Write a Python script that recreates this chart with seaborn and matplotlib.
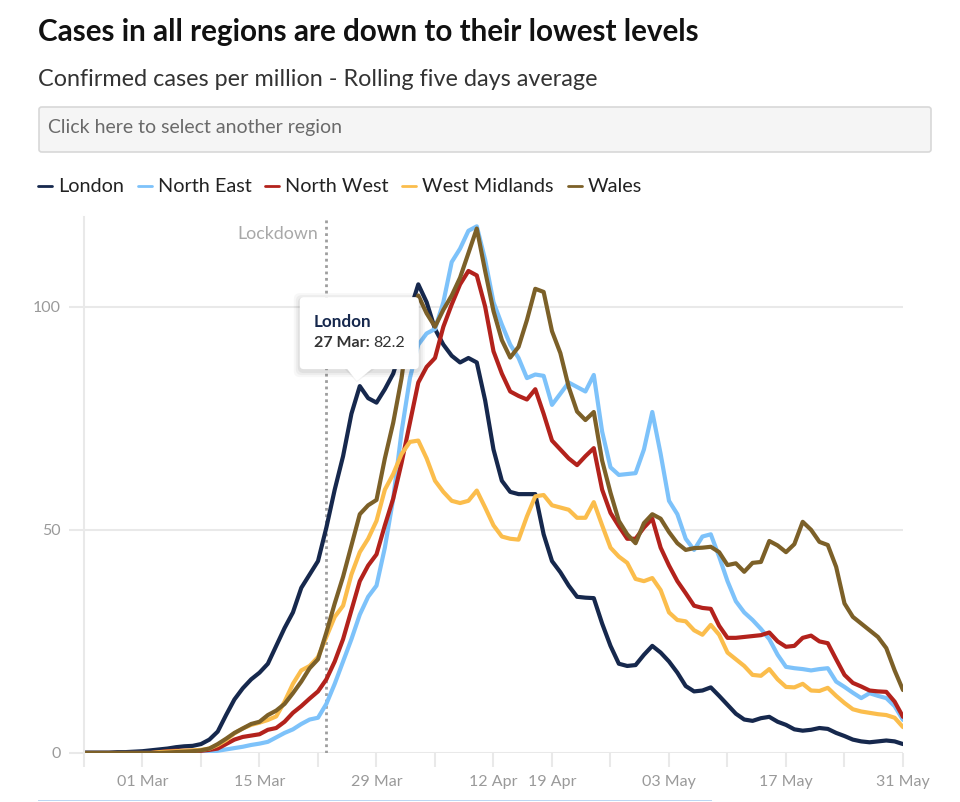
import numpy as np
import pandas as pd
import matplotlib
matplotlib.use("Agg")
import matplotlib.pyplot as plt
import matplotlib.dates as mdates
from matplotlib.patches import FancyBboxPatch, Polygon, Rectangle
import seaborn as sns

# ---------------- data ----------------
start_date = "2020-02-23"
end_date = "2020-05-31"
regions = ["London", "North East", "North West", "West Midlands", "Wales"]
colors = ["#16284d", "#7dc2fa", "#b3221c", "#fbbd4c", "#7c6028"]

london = [0.1, 0.1, 0.1, 0.1, 0.2, 0.2, 0.3,
          0.4, 0.6, 0.8, 1.0, 1.3, 1.5, 1.6,
          2.0, 3.0, 4.8, 8.5, 12.0, 14.5, 16.5,
          18.0, 20.0, 24.0, 28.0, 31.5, 37.0, 40.0,
          43.0, 50.5, 59.0, 66.5, 76.0, 82.2, 79.5,
          78.5, 81.5, 85.0, 91.0, 99.0, 105.0, 101.0,
          95.0, 91.5, 89.0, 87.5, 88.5, 87.5, 79.0,
          68.0, 61.0, 58.5, 58.0, 58.0, 58.0, 49.0,
          43.0, 40.5, 37.5, 35.0, 34.8, 34.7, 29.0,
          24.0, 20.0, 19.5, 19.7, 22.0, 24.0, 22.5,
          20.5, 18.0, 15.0, 13.8, 14.0, 14.7, 12.8,
          10.8, 8.8, 7.5, 7.2, 7.8, 8.1, 7.0,
          6.3, 5.3, 5.0, 5.2, 5.6, 5.4, 4.5,
          3.8, 3.0, 2.6, 2.4, 2.6, 2.8, 2.6, 2.0]

north_east = [0, 0, 0, 0, 0, 0, 0,
              0, 0, 0, 0, 0, 0.05, 0.1,
              0.1, 0.2, 0.5, 0.8, 1.1, 1.4, 1.8,
              2.1, 2.5, 3.5, 4.5, 5.3, 6.5, 7.5,
              7.9, 11.0, 15.5, 20.5, 25.5, 31.0, 35.0,
              37.5, 46.0, 57.0, 72.0, 84.0, 91.5, 94.0,
              95.0, 101.0, 110.0, 113.0, 117.0, 118.0, 110.5,
              101.0, 96.0, 91.5, 88.5, 84.0, 84.8, 84.5,
              78.0, 80.5, 83.0, 82.0, 81.0, 84.7, 72.0,
              64.0, 62.3, 62.5, 62.7, 68.0, 76.4, 67.0,
              56.5, 53.5, 48.0, 45.5, 48.5, 49.0, 44.0,
              38.5, 34.0, 31.5, 29.8, 27.8, 25.5, 22.0,
              19.3, 19.0, 18.8, 18.5, 18.8, 19.0, 16.0,
              14.8, 13.5, 12.3, 13.4, 12.8, 12.3, 10.5, 7.4]

north_west = [0, 0, 0, 0, 0, 0, 0,
              0, 0, 0.2, 0.4, 0.5, 0.5, 0.5,
              0.5, 0.7, 1.0, 2.0, 3.0, 3.6, 3.9,
              4.2, 5.2, 5.6, 7.0, 9.0, 10.5, 12.2,
              13.8, 16.5, 20.5, 25.5, 32.0, 38.5, 42.0,
              44.5, 51.0, 57.0, 65.0, 74.0, 83.0, 86.5,
              88.5, 95.5, 100.5, 105.0, 108.0, 107.0, 100.0,
              90.0, 85.0, 81.0, 80.0, 79.2, 81.5, 76.0,
              70.0, 68.0, 66.0, 64.5, 66.5, 68.3, 59.0,
              53.8, 50.8, 48.0, 48.0, 50.5, 52.5, 46.0,
              42.0, 38.5, 35.8, 33.0, 32.5, 32.3, 28.5,
              25.8, 25.8, 26.0, 26.2, 26.4, 27.0, 25.0,
              23.8, 24.0, 25.8, 26.3, 25.0, 24.6, 21.0,
              17.5, 15.7, 14.9, 14.0, 13.8, 13.7, 11.5, 8.1]

west_midlands = [0, 0, 0, 0, 0, 0, 0,
                 0, 0, 0.2, 0.3, 0.4, 0.5, 0.6,
                 0.7, 1.0, 1.8, 2.9, 4.4, 5.5, 6.3,
                 6.8, 7.4, 8.2, 11.5, 15.5, 18.5, 19.5,
                 21.5, 26.0, 30.5, 33.0, 40.0, 45.0, 48.0,
                 52.0, 59.0, 62.5, 67.0, 69.7, 70.0, 66.0,
                 61.0, 58.5, 56.5, 56.0, 56.5, 58.8, 55.0,
                 51.0, 48.5, 48.0, 47.8, 53.0, 57.5, 57.8,
                 55.5, 55.0, 54.5, 52.7, 52.7, 56.2, 51.0,
                 46.0, 44.0, 42.6, 39.0, 38.5, 39.2, 36.5,
                 31.5, 29.8, 29.5, 27.5, 26.5, 28.7, 26.5,
                 22.5, 21.0, 19.5, 17.5, 17.3, 18.8, 16.5,
                 14.8, 14.7, 15.5, 14.0, 13.9, 14.6, 12.8,
                 11.2, 9.8, 9.3, 9.0, 8.7, 8.5, 7.9, 5.8]

wales = [0, 0, 0, 0, 0, 0, 0,
         0, 0, 0, 0.1, 0.2, 0.3, 0.4,
         0.6, 1.0, 2.0, 3.2, 4.5, 5.5, 6.5,
         7.0, 8.5, 9.5, 11.0, 13.4, 16.0, 19.0,
         21.0, 27.0, 33.5, 39.5, 46.5, 53.5, 55.5,
         56.7, 66.0, 74.0, 84.0, 98.0, 102.5, 98.5,
         95.5, 99.3, 102.5, 106.5, 112.0, 117.5, 108.0,
         99.0, 92.5, 88.6, 91.0, 97.0, 104.0, 103.3,
         94.5, 89.6, 82.0, 76.5, 74.6, 76.4, 65.5,
         58.3, 52.0, 49.0, 47.0, 51.5, 53.5, 52.5,
         49.5, 47.0, 45.5, 45.9, 46.0, 46.2, 45.0,
         42.1, 42.5, 40.6, 42.6, 42.8, 47.5, 46.5,
         45.0, 46.8, 51.8, 50.0, 47.3, 46.6, 41.7,
         33.5, 30.5, 29.0, 27.5, 26.0, 23.5, 18.5, 14.1]

tick_dates = ["2020-02-23", "2020-03-01", "2020-03-08", "2020-03-15", "2020-03-22",
              "2020-03-29", "2020-04-05", "2020-04-12", "2020-04-19", "2020-04-26",
              "2020-05-03", "2020-05-10", "2020-05-17", "2020-05-24", "2020-05-31"]
tick_labels = ["", "01 Mar", "", "15 Mar", "", "29 Mar", "", "12 Apr", "19 Apr", "",
               "03 May", "", "17 May", "", "31 May"]
y_ticks = [0, 50, 100]
lockdown_date = "2020-03-23"
tooltip_region = "London"
tooltip_date = "2020-03-27"
tooltip_value = 82.2

# ---------------- build frame ----------------
dates = pd.date_range(start_date, end_date, freq="D")
series = [london, north_east, north_west, west_midlands, wales]
df = pd.concat([pd.DataFrame({"date": dates, "region": r, "value": v})
                for r, v in zip(regions, series)], ignore_index=True)

# ---------------- figure ----------------
sns.set_theme(style="white")
plt.rcParams["font.family"] = ["Lato", "DejaVu Sans"]

W, H = 960, 802
fig = plt.figure(figsize=(W / 100, H / 100), dpi=100)
def fx(px): return px / W
def fy(py): return 1 - py / H

ax_left, ax_right, ax_top, ax_bottom = 84, 903, 217.4, 753
ax = fig.add_axes([fx(ax_left), fy(ax_bottom), fx(ax_right - ax_left), (ax_bottom - ax_top) / H])

sns.lineplot(data=df, x="date", y="value", hue="region", hue_order=regions,
             palette=colors, linewidth=3.0, ax=ax, legend=True,
             solid_joinstyle="round", solid_capstyle="round")

ax.set_xlim(pd.Timestamp(start_date), pd.Timestamp(end_date))
ax.set_ylim(0, 120)
ax.set_xlabel("")
ax.set_ylabel("")

grid_c = "#e9e9e9"
ax.set_yticks(y_ticks)
ax.set_yticklabels([str(t) for t in y_ticks])
for t in y_ticks:
    ax.axhline(t, color=grid_c, lw=1.5, zorder=0)
ax.set_xticks(pd.to_datetime(tick_dates))
ax.set_xticklabels(tick_labels)
ax.tick_params(axis="y", length=11, width=1.5, color=grid_c, labelcolor="#9a9a9a",
               labelsize=11.5, pad=6, left=True)
ax.tick_params(axis="x", length=10, width=1.5, color=grid_c, labelcolor="#9a9a9a",
               labelsize=11.5, pad=6, bottom=True)
for s in ["top", "right", "bottom"]:
    ax.spines[s].set_visible(False)
ax.spines["left"].set_color(grid_c)
ax.spines["left"].set_linewidth(1.5)

# lockdown line
ld = pd.Timestamp(lockdown_date)
ax.axvline(ld, color="#9e9e9e", lw=2, linestyle=(0, (1, 1.3)), zorder=1)
ax.text(ld - pd.Timedelta(days=1.0), 116.3, "Lockdown", ha="right", va="center",
        color="#a8a8a8", fontsize=12.8)

# legend
sns.move_legend(ax, "center left", bbox_to_anchor=((38 - ax_left) / (ax_right - ax_left),
                                                    (ax_bottom - 187) / (ax_bottom - ax_top)),
                ncol=5, frameon=False, title=None, fontsize=14.3, handlelength=0.7,
                handletextpad=0.3, columnspacing=0.7, borderaxespad=0, borderpad=0)
leg = ax.get_legend()
for t in leg.get_texts():
    t.set_color("#222222")
for h in leg.legend_handles:
    h.set_linewidth(2.0)

# title, subtitle, select box
fig.text(fx(38), fy(32), "Cases in all regions are down to their lowest levels",
         fontsize=21.3, fontweight="bold", color="#111111", va="center", ha="left")
fig.text(fx(38), fy(80), "Confirmed cases per million - Rolling five days average",
         fontsize=16.8, color="#333333", va="center", ha="left")
box = FancyBboxPatch((fx(39), fy(152)), fx(931 - 39), (152 - 107) / H,
                     boxstyle="round,pad=0,rounding_size=0.003",
                     transform=fig.transFigure, facecolor="#f5f5f5",
                     edgecolor="#d8d8d8", lw=1.2)
fig.patches.append(box)
fig.text(fx(48), fy(128), "Click here to select another region",
         fontsize=14, color="#6a6a6a", va="center", ha="left")

# bottom scroll bar line
fig.add_artist(Rectangle((fx(38), fy(801)), fx(712 - 38), 1.5 / H, transform=fig.transFigure,
                         facecolor="#bcd7f2", edgecolor="none"))

# tooltip
fig.canvas.draw()
px, py = ax.transData.transform((mdates.date2num(pd.Timestamp(tooltip_date)), tooltip_value))
tip_y = py + 5
bw, bh = 119, 72
bx0 = px - 60
by0 = tip_y + 12
for k, a in [(6, 0.03), (4, 0.04), (2, 0.05)]:
    fig.patches.append(FancyBboxPatch((bx0 - k, by0 - k - 2), bw + 2 * k, bh + 2 * k,
                                      boxstyle="round,pad=0,rounding_size=6", transform=None,
                                      facecolor="black", alpha=a, edgecolor="none"))
fig.patches.append(Polygon([[px - 16, by0 + 1], [px + 16, by0 + 1], [px - 3, tip_y - 1]],
                           closed=True, transform=None, facecolor="black", alpha=0.05,
                           edgecolor="none"))
fig.patches.append(FancyBboxPatch((bx0, by0), bw, bh, boxstyle="round,pad=0,rounding_size=4",
                                  transform=None, facecolor="white", edgecolor="none"))
fig.patches.append(Polygon([[px - 14, by0 + 2], [px + 14, by0 + 2], [px - 3, tip_y]],
                           closed=True, transform=None, facecolor="white", edgecolor="none"))
fig.text(bx0 + 14, by0 + bh - 25, tooltip_region, transform=None, fontsize=12.3,
         fontweight="bold", color="#16284d", va="center", ha="left")
t1 = fig.text(bx0 + 14, by0 + bh - 46, "27 Mar:", transform=None, fontsize=11.5,
              fontweight="bold", color="#333333", va="center", ha="left")
fig.canvas.draw()
bb = t1.get_window_extent()
fig.text(bb.x1 + 4, by0 + bh - 46, f"{tooltip_value}", transform=None, fontsize=11.5,
         color="#333333", va="center", ha="left")

fig.savefig("out.png", dpi=100, facecolor="white")
